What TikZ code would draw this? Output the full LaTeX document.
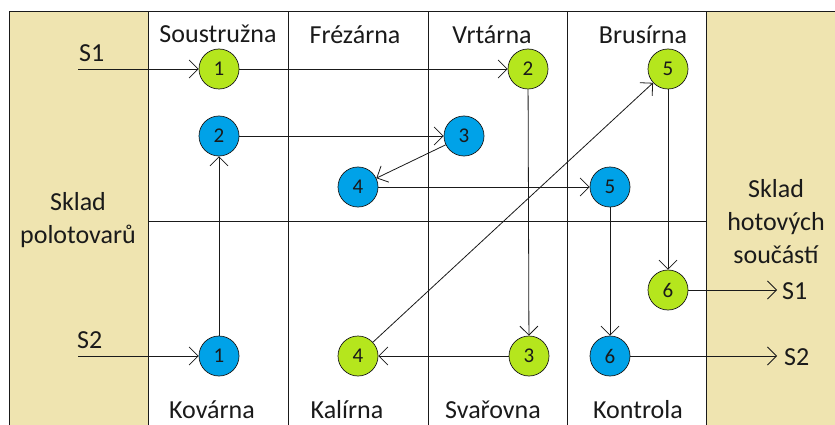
\documentclass[tikz,border=0pt]{standalone}
\usepackage{fontspec}
\setmainfont{Carlito}
\usetikzlibrary{arrows.meta}
\definecolor{lime}{HTML}{B5E61D}
\definecolor{turq}{HTML}{00A2E8}
\definecolor{cream}{HTML}{EFE4B0}
\definecolor{ink}{HTML}{1A1A1A}
\begin{document}
\begin{tikzpicture}[x=1pt,y=-1pt,
  gridline/.style={line width=1pt, draw=ink},
  station/.style={circle, draw=ink, line width=0.7pt, minimum size=40pt, inner sep=0pt,
    text=ink, font=\fontsize{21}{21}\selectfont},
  gst/.style={station, fill=lime},
  bst/.style={station, fill=turq},
  flow/.style={-{Straight Barb[length=9pt,width=18pt]}, line width=0.8pt, draw=ink},
  lbl/.style={text=ink, font=\fontsize{26}{33}\selectfont, inner sep=0pt, align=center}
]
\useasboundingbox (0,0) rectangle (835,425);
\fill[white] (0,0) rectangle (835,425);

% storage areas
\fill[cream] (9,12) rectangle (148,425);
\fill[cream] (706,12) rectangle (835,425);

% workshop grid
\draw[gridline] (9,425) -- (9,12) -- (835,12);
\foreach \x in {148,288,428,567,706}
  \draw[gridline] (\x,12) -- (\x,425);
\draw[gridline] (148,221) -- (706,221);

% workshop names
\node[lbl] (soustruzna) at (218,34) {Soustružna};
\node[lbl] (frezarna) at (355,35) {Frézárna};
\node[lbl] (vrtarna) at (492,35) {Vrtárna};
\node[lbl] (brusirna) at (643,35) {Brusírna};
\node[lbl] (kovarna) at (212,410) {Kovárna};
\node[lbl] (kalirna) at (347,410) {Kalírna};
\node[lbl] (svarovna) at (493,410) {Svařovna};
\node[lbl] (kontrola) at (638,410) {Kontrola};

\node[lbl] (skladA) at (78,220) {Sklad\\polotovarů};
\node[lbl] (skladB) at (776,222) {Sklad\\hotových\\součástí};

% part S1 route (green)
\node[gst] (g1) at (219,69) {1};
\node[gst] (g2) at (528,69) {2};
\node[gst] (g3) at (529,356) {3};
\node[gst] (g4) at (358,356) {4};
\node[gst] (g5) at (668,69) {5};
\node[gst] (g6) at (668,290) {6};

% part S2 route (blue)
\node[bst] (b1) at (219,356) {1};
\node[bst] (b2) at (219,136) {2};
\node[bst] (b3) at (464,136) {3};
\node[bst] (b4) at (358,187) {4};
\node[bst] (b5) at (610,187) {5};
\node[bst] (b6) at (610,356) {6};

% inputs and outputs
\coordinate (s1in) at (78,69);
\coordinate (s2in) at (78,356);
\coordinate (s1out) at (777,290);
\coordinate (s2out) at (777,356);
\node[lbl, anchor=south west] (s1a) at (79,62) {S1};
\node[lbl, anchor=south west] (s2a) at (77,349) {S2};
\node[lbl, anchor=west] (s1b) at (782,291) {S1};
\node[lbl, anchor=west] (s2b) at (784,357) {S2};

% flows
\draw[flow] (s1in) -- (g1);
\draw[flow] (g1) -- (g2);
\draw[flow] (g2) -- (g3);
\draw[flow] (g3) -- (g4);
\draw[flow] (g4) -- (g5);
\draw[flow] (g5) -- (g6);
\draw[flow] (g6) -- (s1out);

\draw[flow] (s2in) -- (b1);
\draw[flow] (b1) -- (b2);
\draw[flow] (b2) -- (b3);
\draw[flow] (b3) -- (b4);
\draw[flow] (b4) -- (b5);
\draw[flow] (b5) -- (b6);
\draw[flow] (b6) -- (s2out);
\end{tikzpicture}
\end{document}
